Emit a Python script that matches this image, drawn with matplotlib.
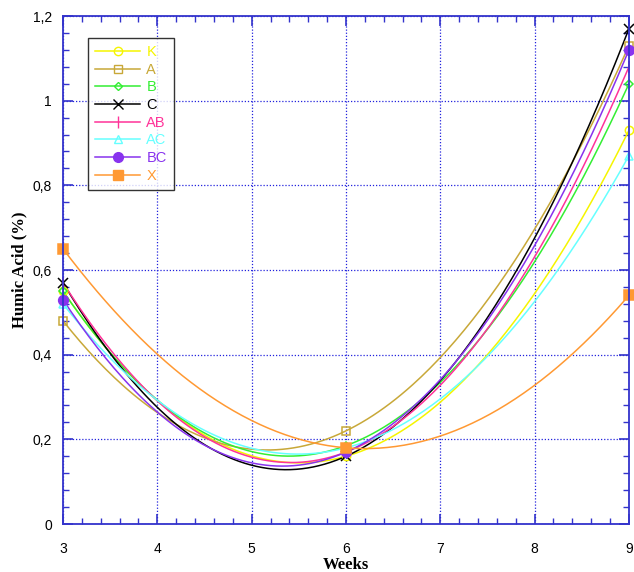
import matplotlib
matplotlib.use('Agg')
import matplotlib.pyplot as plt
import numpy as np
from matplotlib.ticker import MultipleLocator, FuncFormatter

# semanas e valores de acido humico (%)
semanas = [3, 6, 9]
series = ['K', 'A', 'B', 'C', 'AB', 'AC', 'BC', 'X']
K = [0.55, 0.16, 0.93]
A = [0.48, 0.22, 1.13]
B = [0.55, 0.185, 1.04]
C = [0.57, 0.16, 1.17]
AB = [0.57, 0.17, 1.08]
AC = [0.52, 0.18, 0.87]
BC = [0.53, 0.17, 1.12]
X = [0.65, 0.18, 0.54]
valores = [K, A, B, C, AB, AC, BC, X]

cores = ['#f5f500', '#c8a838', '#33ee33', '#000000', '#ff3399', '#66ffff', '#8833ee', '#ff9933']
marcadores = ['o', 's', 'D', 'x', '|', '^', 'o', 's']
preench = ['none', 'none', 'none', None, None, 'none', 'full', 'full']
tamanhos = [6, 6, 4.5, 7, 8, 6, 7, 7]

fig = plt.figure(figsize=(6.34, 5.72), dpi=100)
ax = fig.add_axes([0.0994, 0.0839, 0.8926, 0.8881])

xs = np.linspace(3, 9, 200)
for nome, v, cor, m, f, ms in zip(series, valores, cores, marcadores, preench, tamanhos):
    coef = np.polyfit(semanas, v, 2)
    ax.plot(xs, np.polyval(coef, xs), color=cor, lw=1.1)
    if f == 'none':
        ax.plot(semanas, v, linestyle='none', marker=m, ms=ms, mfc='none', mec=cor, mew=1.1,
                clip_on=False, zorder=5)
    else:
        ax.plot(semanas, v, linestyle='none', marker=m, ms=ms, color=cor, mew=1.1,
                clip_on=False, zorder=5)
    ax.plot([], [], color=cor, lw=1.1, marker=m, ms=ms,
            mfc='none' if f == 'none' else cor, mec=cor, label=nome)

ax.set_xlim(3, 9)
ax.set_ylim(0, 1.2)
ax.xaxis.set_major_locator(MultipleLocator(1))
ax.xaxis.set_minor_locator(MultipleLocator(0.2))
ax.yaxis.set_major_locator(MultipleLocator(0.2))
ax.yaxis.set_minor_locator(MultipleLocator(0.04))


def virgula(v, pos):
    s = ('%.1f' % v).rstrip('0').rstrip('.')
    return s.replace('.', ',')


ax.yaxis.set_major_formatter(FuncFormatter(virgula))
ax.grid(True, which='major', color='#2222dd', linestyle=(0, (1, 1.5)), lw=0.9)
for s in ax.spines.values():
    s.set_color('#3333cc')
    s.set_linewidth(1.3)
    s.set_zorder(6)
ax.tick_params(which='both', direction='in', top=True, right=True, color='#3333cc',
               labelsize=10, pad=8)
ax.tick_params(which='major', length=7, width=1.2)
ax.tick_params(which='minor', length=4, width=1.0)
for lab in ax.get_xticklabels() + ax.get_yticklabels():
    lab.set_family('Liberation Sans')
ax.tick_params(axis='x', pad=13)

ax.set_xlabel('Weeks', family='Liberation Serif', fontweight='bold', fontsize=12)
ax.xaxis.set_label_coords(0.5, -0.064)
ax.set_ylabel('Humic Acid (%)', family='Liberation Serif', fontweight='bold', fontsize=12, labelpad=4)

# legenda com texto colorido
leg = ax.legend(loc='upper left', bbox_to_anchor=(0.044, 0.957), frameon=True, fancybox=False,
                edgecolor='black', handlelength=3.1, handletextpad=0.4, labelspacing=0.25,
                prop={'family': 'Liberation Sans', 'size': 10.5}, borderpad=0.5, borderaxespad=0)
leg.get_frame().set_linewidth(1.0)
for txt, cor in zip(leg.get_texts(), cores):
    txt.set_color(cor)

fig.savefig('out.png', dpi=100)
